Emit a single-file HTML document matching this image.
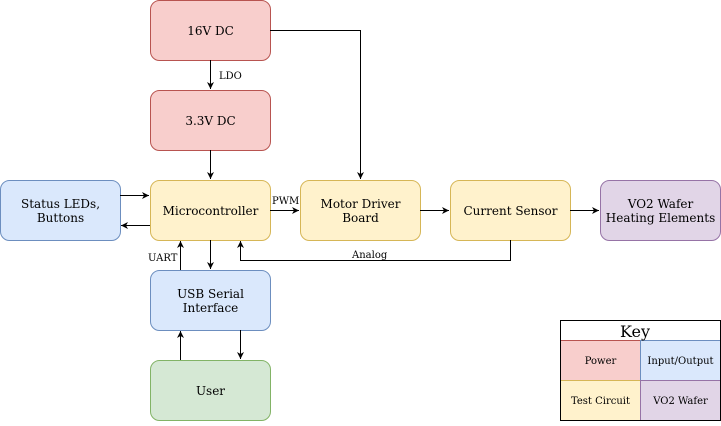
<!DOCTYPE html>
<html><head><meta charset="utf-8"><style>
body{margin:0;background:#fff}
svg text{font-family:"DejaVu Serif","Liberation Serif",serif;font-size:12px;fill:#000}
</style></head><body>
<svg width="721" height="421" viewBox="0 0 721 421" xmlns="http://www.w3.org/2000/svg" font-family="DejaVu Serif, Liberation Serif, serif">
<defs><marker id="a" markerWidth="8" markerHeight="8" refX="7" refY="4" orient="auto" markerUnits="userSpaceOnUse"><path d="M0,0.5 L7,4 L0,7.5 L2,4 Z" fill="#000"/></marker></defs>
<g stroke-width="1">
<rect x="150.5" y="0.5" width="120" height="60" rx="9" fill="#f8cecc" stroke="#b85450"/>
<rect x="150.5" y="90.5" width="120" height="60" rx="9" fill="#f8cecc" stroke="#b85450"/>
<rect x="0.5" y="180.5" width="120" height="60" rx="9" fill="#dae8fc" stroke="#6c8ebf"/>
<rect x="150.5" y="180.5" width="120" height="60" rx="9" fill="#fff2cc" stroke="#d6b656"/>
<rect x="300.5" y="180.5" width="120" height="60" rx="9" fill="#fff2cc" stroke="#d6b656"/>
<rect x="450.5" y="180.5" width="120" height="60" rx="9" fill="#fff2cc" stroke="#d6b656"/>
<rect x="600.5" y="180.5" width="120" height="60" rx="9" fill="#e1d5e7" stroke="#9673a6"/>
<rect x="150.5" y="270.5" width="120" height="60" rx="9" fill="#dae8fc" stroke="#6c8ebf"/>
<rect x="150.5" y="360.5" width="120" height="60" rx="9" fill="#d5e8d4" stroke="#82b366"/>
</g>
<g fill="none" stroke="#000" stroke-width="1" marker-end="url(#a)">
<path d="M210.5 60 V89"/>
<path d="M210.5 150 V179"/>
<path d="M270 30.5 H360.5 V179"/>
<path d="M270 210.5 H299"/>
<path d="M420 210.5 H449"/>
<path d="M570 210.5 H599"/>
<path d="M510.5 240 V260.5 H240.5 V241"/>
<path d="M120 195.5 H149"/>
<path d="M150 225.5 H121"/>
<path d="M210.5 240 V269"/>
<path d="M180.5 270 V241"/>
<path d="M180.5 360 V331"/>
<path d="M240.5 330 V359"/>
</g>
<g>
<text x="219" y="79" style="font-size:10px">LDO</text>
<text x="272" y="204" style="font-size:10px">PWM</text>
<text x="352" y="258" style="font-size:10px">Analog</text>
<text x="148" y="261" style="font-size:10px">UART</text>
</g>
<g text-anchor="middle">
<text x="210.5" y="35">16V DC</text>
<text x="210.5" y="125">3.3V DC</text>
<text x="60.5" y="208">Status LEDs,</text>
<text x="60.5" y="222">Buttons</text>
<text x="210.5" y="215">Microcontroller</text>
<text x="360.5" y="208">Motor Driver</text>
<text x="360.5" y="222">Board</text>
<text x="510.5" y="215">Current Sensor</text>
<text x="660.5" y="208">VO2 Wafer</text>
<text x="660.5" y="222">Heating Elements</text>
<text x="210.5" y="298">USB Serial</text>
<text x="210.5" y="312">Interface</text>
<text x="210.5" y="395">User</text>
</g>
<rect x="560.5" y="320.5" width="160" height="100" fill="#fff" stroke="#000"/>
<rect x="560.5" y="340.5" width="80" height="40" fill="#f8cecc" stroke="#b85450"/>
<rect x="640.5" y="340.5" width="80" height="40" fill="#dae8fc" stroke="#6c8ebf"/>
<rect x="560.5" y="380.5" width="80" height="40" fill="#fff2cc" stroke="#d6b656"/>
<rect x="640.5" y="380.5" width="80" height="40" fill="#e1d5e7" stroke="#9673a6"/>
<rect x="560.5" y="320.5" width="160" height="100" fill="none" stroke="#000"/>
<g text-anchor="middle">
<text x="635" y="337" style="font-size:16px">Key</text>
<text x="600.5" y="364" style="font-size:10px">Power</text>
<text x="680.5" y="364" style="font-size:10px">Input/Output</text>
<text x="600.5" y="404" style="font-size:10px">Test Circuit</text>
<text x="680.5" y="404" style="font-size:10px">VO2 Wafer</text>
</g>
</svg>
</body></html>
